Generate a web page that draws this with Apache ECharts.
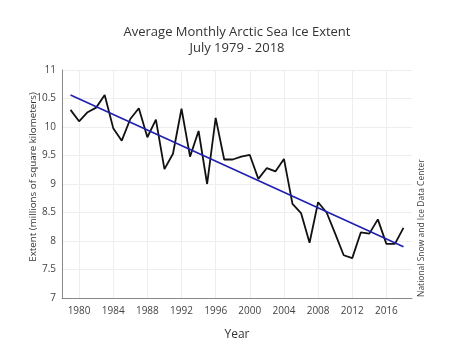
<!DOCTYPE html>
<html><head><meta charset="utf-8">
<script src="https://cdn.jsdelivr.net/npm/echarts@6/dist/echarts.min.js"></script>
<style>html,body{margin:0;padding:0;background:#fff}#c{width:474px;height:355px}</style>
</head><body><div id="c"></div>
<script>
const years = [1979,1980,1981,1982,1983,1984,1985,1986,1987,1988,1989,1990,1991,1992,1993,1994,1995,1996,1997,1998,1999,2000,2001,2002,2003,2004,2005,2006,2007,2008,2009,2010,2011,2012,2013,2014,2015,2016,2017,2018];
const extent = [10.30,10.10,10.26,10.34,10.56,9.98,9.76,10.14,10.33,9.82,10.13,9.26,9.53,10.32,9.48,9.93,9.00,10.16,9.43,9.43,9.48,9.51,9.09,9.28,9.22,9.44,8.65,8.49,7.97,8.68,8.50,8.13,7.75,7.70,8.15,8.13,8.38,7.95,7.95,8.23];
const trendYears = [1979, 2018];
const trendValues = [10.56, 7.90];
const xTickLabels = [1980,1984,1988,1992,1996,2000,2004,2008,2012,2016];

const font = 'Open Sans';
const chart = echarts.init(document.getElementById('c'));
chart.setOption({
  animation:false,
  textStyle:{fontFamily:font},
  title:{text:'Average Monthly Arctic Sea Ice Extent\nJuly 1979 - 2018', left:'center', top:19,
    textStyle:{fontFamily:font,fontSize:13,fontWeight:'normal',color:'#333',lineHeight:16}},
  grid:{left:62,right:62,top:70,bottom:57},
  xAxis:{type:'value',min:1978,max:2019,
    name:'Year',nameLocation:'middle',nameGap:31,nameTextStyle:{fontFamily:font,fontSize:12,color:'#333'},
    axisLine:{show:true,lineStyle:{color:'#888',width:1}},
    axisTick:{show:false,customValues:xTickLabels},
    axisLabel:{customValues:xTickLabels,formatter:v=>String(v),color:'#444',fontSize:10,fontFamily:font,margin:8},
    splitLine:{show:true,lineStyle:{color:'#eee'}}},
  yAxis:{type:'value',min:7,max:11,interval:0.5,
    axisLine:{show:true,lineStyle:{color:'#888',width:1}},
    axisTick:{show:false},
    axisLabel:{color:'#444',fontSize:10,fontFamily:font,margin:6},
    splitLine:{show:true,lineStyle:{color:'#eee'}}},
  graphic:[
    {type:'text',x:33,y:177,rotation:Math.PI/2,
      style:{text:'Extent (millions of square kilometers)',fontFamily:font,fontSize:9.8,fill:'#333',align:'center',verticalAlign:'middle'}},
    {type:'text',x:422,y:297,rotation:Math.PI/2,
      style:{text:'National Snow and Ice Data Center',fontFamily:font,fontSize:8.5,fill:'#444',align:'left',verticalAlign:'middle'}}],
  series:[
    {type:'line',data:years.map((y,i)=>[y,extent[i]]),symbol:'none',lineStyle:{color:'#111',width:1.8},z:2},
    {type:'line',data:trendYears.map((y,i)=>[y,trendValues[i]]),symbol:'none',lineStyle:{color:'#1f1fb0',width:1.6},z:3}
  ]
});
</script></body></html>
